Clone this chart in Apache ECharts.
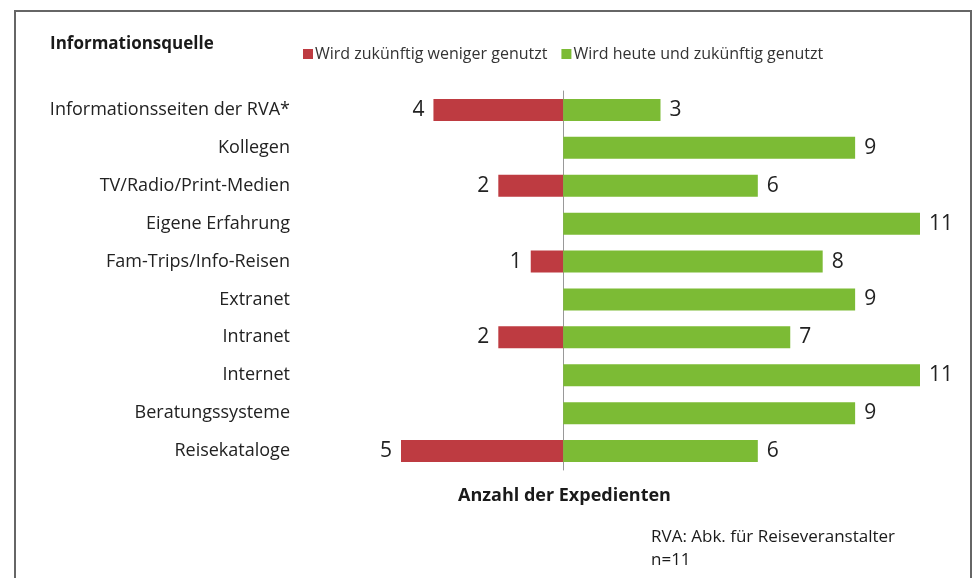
<!DOCTYPE html>
<html><head><meta charset="utf-8">
<script src="https://cdn.jsdelivr.net/npm/echarts@6/dist/echarts.min.js"></script>
<style>html,body{margin:0;padding:0;background:#fff}#c{width:978px;height:578px}</style>
</head><body><div id="c"></div>
<script>
const categories = ["Informationsseiten der RVA*","Kollegen","TV/Radio/Print-Medien","Eigene Erfahrung","Fam-Trips/Info-Reisen","Extranet","Intranet","Internet","Beratungssysteme","Reisekataloge"];
const lessUsed = [4, 0, 2, 0, 1, 0, 2, 0, 0, 5];
const usedNowFuture = [3, 9, 6, 11, 8, 9, 7, 11, 9, 6];
const seriesNames = ["Wird zukünftig weniger genutzt", "Wird heute und zukünftig genutzt"];

const FONT = "Open Sans";
const chart = echarts.init(document.getElementById('c'));
chart.setOption({
  animation: false,
  textStyle: {fontFamily: FONT},
  graphic: [
    {type:'polyline', shape:{points:[[15,580],[15,11],[971,11],[971,580]]}, style:{stroke:'#666', lineWidth:2, fill:null}},
    {type:'text', left:50, top:36, style:{text:'Informationsquelle', font:'bold 17px "Open Sans"', fill:'#1a1a1a'}},
    {type:'text', left:458, top:487, style:{text:'Anzahl der Expedienten', font:'bold 18px "Open Sans"', fill:'#1a1a1a'}},
    {type:'text', left:651, top:526, style:{text:'RVA: Abk. für Reiseveranstalter\nn=11', font:'17px "Open Sans"', fill:'#1a1a1a', lineHeight:23}}
  ],
  legend: {
    left: 298, top: 41, itemWidth: 10, itemHeight: 10, itemGap: 14, icon: 'rect',
    textStyle: {fontSize: 16, color: '#333', fontFamily: FONT, padding:[0,0,0,-3]},
    data: seriesNames
  },
  grid: {left: 401, right: 58, top: 91, bottom: 108, outerBoundsMode: 'none', containLabel: false},
  xAxis: {type:'value', min:-5, max:11, show:false},
  yAxis: {
    type:'category', data: categories, inverse: true,
    axisLine:{show:true, onZero:true, lineStyle:{color:'#999', width:1}}, axisTick:{show:false},
    axisLabel:{margin:111, fontSize:18, color:'#222', fontFamily: FONT, padding:[3,0,0,0]}
  },
  series: [
    {
      name: seriesNames[0], type:'bar', stack:'s', barWidth: 22,
      data: lessUsed.map(v => v === 0 ? null : -v),
      itemStyle:{color:'#BE3B41'},
      label:{show:true, position:'left', distance:9, fontSize:21, color:'#222', fontFamily: FONT, formatter: p => Math.abs(p.value)}
    },
    {
      name: seriesNames[1], type:'bar', stack:'s', barWidth: 22,
      data: usedNowFuture,
      itemStyle:{color:'#7CBB35'},
      label:{show:true, position:'right', distance:9, fontSize:21, color:'#222', fontFamily: FONT}
    }
  ]
});
</script></body></html>
